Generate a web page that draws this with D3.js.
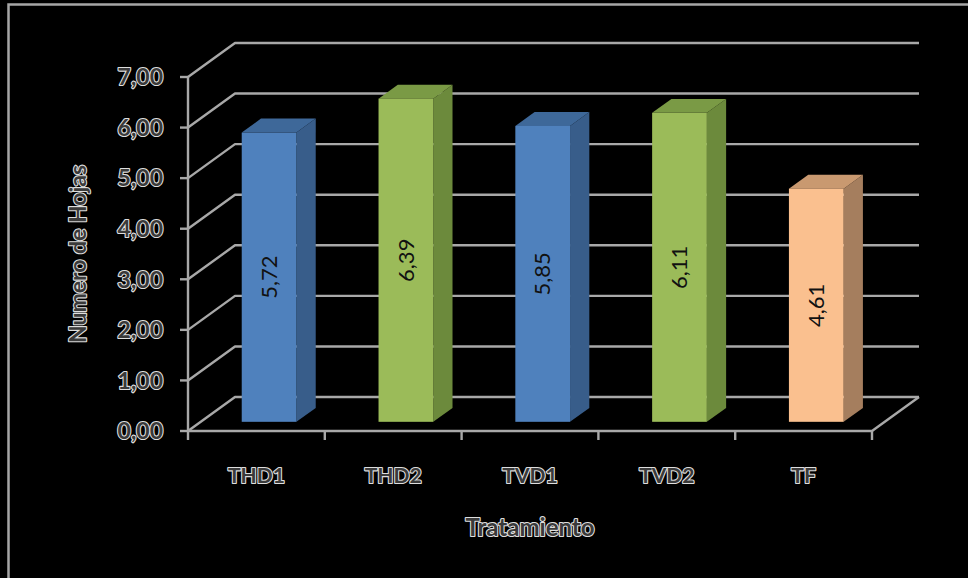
<!DOCTYPE html>
<html>
<head>
<meta charset="utf-8">
<script src="https://cdn.jsdelivr.net/npm/d3@7/dist/d3.min.js"></script>
<style>
  html, body { margin: 0; padding: 0; background: #000; }
  svg { display: block; }
</style>
</head>
<body>
<svg id="chart" width="968" height="578"></svg>
<script>
// Tratamientos y número medio de hojas
const categories = ["THD1", "THD2", "TVD1", "TVD2", "TF"];
const values = [5.72, 6.39, 5.85, 6.11, 4.61];
const yTicks = [0, 1, 2, 3, 4, 5, 6, 7];
const faceColors = ["#4F81BD", "#9BBB59", "#4F81BD", "#9BBB59", "#FAC08F"];
const sideColors = ["#385D8A", "#6C8A3C", "#385D8A", "#6C8A3C", "#A57E5E"];
const topColors  = ["#3E6899", "#7A9A45", "#3E6899", "#7A9A45", "#C99970"];

const svg = d3.select("#chart");
const W = 968, H = 578;

svg.append("rect").attr("width", W).attr("height", H).attr("fill", "#000");
// chart frame
svg.append("rect")
  .attr("x", 8.5).attr("y", 4.5).attr("width", W + 20).attr("height", H + 20)
  .attr("fill", "none").attr("stroke", "#a6a6a6").attr("stroke-width", 2.5);

// front plane scales
const x = d3.scaleBand().domain(categories).range([188, 872])
  .paddingInner(0.6).paddingOuter(0.3);
const y = d3.scaleLinear().domain([0, 7]).range([431, 77]);

// oblique depth offset (depth 0 = front, 1 = back wall)
const DX = 47, DY = -34;
const off = d => [d * DX, d * DY];
const barD0 = 0.27, barD1 = 0.68;

const gridColor = "#a8a8a8";
const xLeft = x.range()[0], xRight = x.range()[1];

// back wall gridlines with their diagonal on the side wall
const grid = svg.append("g").attr("fill", "none").attr("stroke", gridColor)
  .attr("stroke-width", 2.4).attr("stroke-linejoin", "round");
yTicks.forEach(t => {
  const [bx, by] = off(1);
  grid.append("path").attr("d", d3.line()([
    [xLeft, y(t)], [xLeft + bx, y(t) + by], [xRight + bx, y(t) + by]
  ]));
});

// floor outline
{
  const [bx, by] = off(1);
  grid.append("path").attr("d", d3.line()([
    [xLeft, y(0)], [xRight, y(0)], [xRight + bx, y(0) + by]
  ]));
}

// value axis
const axisG = svg.append("g").attr("stroke", gridColor).attr("stroke-width", 2.4);
axisG.append("line").attr("x1", xLeft).attr("x2", xLeft)
  .attr("y1", y(0) + 1).attr("y2", y(7));
yTicks.forEach(t => {
  axisG.append("line").attr("x1", xLeft - 8).attr("x2", xLeft)
    .attr("y1", y(t)).attr("y2", y(t));
});
// category ticks
const step = x.step();
d3.range(categories.length + 1).forEach(i => {
  const tx = xLeft + i * step;
  axisG.append("line").attr("x1", tx).attr("x2", tx)
    .attr("y1", y(0)).attr("y2", y(0) + 9);
});

// outlined (hollow-looking) text style
function outlined(sel, size) {
  return sel.attr("font-family", "Lato, 'Open Sans', 'Liberation Sans', sans-serif")
    .attr("font-size", size).attr("font-weight", "bold")
    .attr("fill", "#3a3a3a").attr("stroke", "#dedede").attr("stroke-width", 2.2)
    .attr("paint-order", "stroke").attr("stroke-linejoin", "round");
}

// y tick labels
yTicks.forEach(t => {
  outlined(svg.append("text"), 23)
    .attr("x", 163).attr("y", y(t)).attr("dy", "0.36em")
    .attr("text-anchor", "end")
    .text(d3.format(".2f")(t).replace(".", ","));
});

// bars
const bars = svg.append("g");
categories.forEach((c, i) => {
  const v = values[i];
  const [fx, fy] = off(barD0);
  const [rx, ry] = off(barD1);
  const x0 = x(c) + fx, x1 = x0 + x.bandwidth();
  const yb = y(0) + fy, yt = y(v) + fy;
  const ddx = rx - fx, ddy = ry - fy;
  // side face
  bars.append("path").attr("fill", sideColors[i])
    .attr("d", d3.line()([[x1, yb], [x1 + ddx, yb + ddy], [x1 + ddx, yt + ddy], [x1, yt]]) + "Z");
  // top face
  bars.append("path").attr("fill", topColors[i])
    .attr("d", d3.line()([[x0, yt], [x0 + ddx, yt + ddy], [x1 + ddx, yt + ddy], [x1, yt]]) + "Z");
  // front face
  bars.append("rect").attr("fill", faceColors[i])
    .attr("x", x0).attr("y", yt).attr("width", x1 - x0).attr("height", yb - yt);
  // value label
  const cx = (x0 + x1) / 2, cy = (yt + yb) / 2;
  bars.append("text")
    .attr("transform", `translate(${cx},${cy}) rotate(-90)`)
    .attr("text-anchor", "middle").attr("dy", "0.35em")
    .attr("font-family", "Lato, 'Open Sans', 'Liberation Sans', sans-serif")
    .attr("font-size", 22).attr("fill", "#111")
    .text(d3.format(".2f")(v).replace(".", ","));
});

// category labels
categories.forEach(c => {
  outlined(svg.append("text"), 21)
    .attr("x", x(c) + x.bandwidth() / 2).attr("y", 476).attr("dy", "0.35em")
    .attr("text-anchor", "middle").text(c);
});

// axis titles
outlined(svg.append("text"), 24)
  .attr("x", 530).attr("y", 528).attr("dy", "0.35em")
  .attr("text-anchor", "middle").text("Tratamiento");
outlined(svg.append("text"), 23)
  .attr("transform", "translate(78,254) rotate(-90)")
  .attr("dy", "0.35em").attr("text-anchor", "middle").text("Numero de Hojas");
</script>
</body>
</html>
